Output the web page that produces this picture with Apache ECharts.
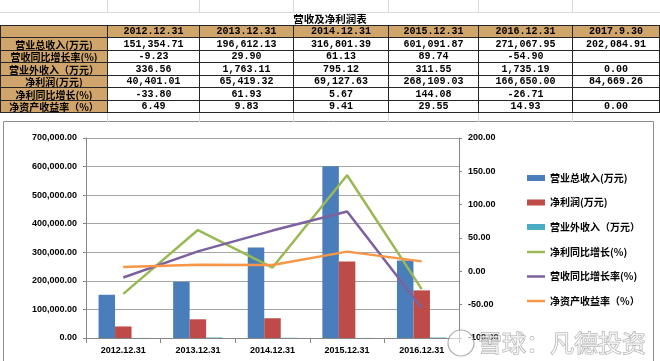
<!DOCTYPE html>
<html>
<head>
<meta charset="utf-8">
<script src="https://cdn.jsdelivr.net/npm/echarts@6/dist/echarts.min.js"></script>
<style>
html,body{margin:0;padding:0;background:#fff;}
#wrap{position:relative;width:660px;height:361px;overflow:hidden;background:#fff;}
#chart{position:absolute;left:0;top:0;width:660px;height:361px;z-index:1;}
#tbl{position:absolute;left:0;top:0;width:660px;height:122px;z-index:2;}
.cell{position:absolute;box-sizing:border-box;display:flex;align-items:center;justify-content:center;font-weight:bold;white-space:nowrap;color:#000;border:1px solid #262626;}
.num{font-family:"Liberation Mono","DejaVu Sans Mono",monospace;font-size:10px;}
.lab{font-family:"Noto Sans CJK SC",sans-serif;font-size:10px;}
.gl{position:absolute;background:#d9d9d9;}
</style>
</head>
<body>
<div id="wrap">
  <div id="chart"></div>
  <div id="tbl"></div>
</div>
<script>
// ---- data ----
const title = '营收及净利润表';
const categories = ['2012.12.31', '2013.12.31', '2014.12.31', '2015.12.31', '2016.12.31'];
const tableColumns = ['2012.12.31', '2013.12.31', '2014.12.31', '2015.12.31', '2016.12.31', '2017.9.30'];
const rowLabels = ['营业总收入(万元)', '营收同比增长率(%)', '营业外收入（万元）', '净利润(万元)', '净利同比增长(%)', '净资产收益率（%）'];
const revenue = [151354.71, 196612.13, 316801.39, 601091.87, 271067.95, 202084.91];
const revenueYoY = [-9.23, 29.90, 61.13, 89.74, -54.90, null];
const otherIncome = [336.56, 1763.11, 795.12, 311.55, 1735.19, 0.00];
const netProfit = [40401.01, 65419.32, 69127.63, 268109.03, 166650.00, 84669.26];
const netProfitYoY = [-33.80, 61.93, 5.67, 144.08, -26.71, null];
const roe = [6.49, 9.83, 9.41, 29.55, 14.93, 0.00];
const leftTicks = { min: 0, max: 700000, interval: 100000 };
const rightTicks = { min: -100, max: 200, interval: 50 };
const watermark = '雪球：凡德投资';

// ---- helpers ----
function fmt(v) {
  if (v === null || v === undefined) return '';
  const s = Math.abs(v).toFixed(2);
  const parts = s.split('.');
  parts[0] = parts[0].replace(/\B(?=(\d{3})+(?!\d))/g, ',');
  return (v < 0 ? '-' : '') + parts.join('.');
}

// ---- spreadsheet table ----
const tbl = document.getElementById('tbl');
const colX = [0, 107, 199, 293, 388, 478, 572, 659];
const rowY = [25, 37, 50, 62, 75, 87, 100, 112];
const tan = '#d0a56b';
function addDiv(cls, x, y, w, h, text, bg) {
  const d = document.createElement('div');
  d.className = cls;
  d.style.left = x + 'px'; d.style.top = y + 'px';
  d.style.width = w + 'px'; d.style.height = h + 'px';
  if (bg) d.style.background = bg;
  if (text !== undefined) d.textContent = text;
  tbl.appendChild(d);
  return d;
}
// faint sheet gridlines
addDiv('gl', 0, 12, 660, 1);
for (let i = 1; i < colX.length - 1; i++) {
  addDiv('gl', colX[i], 0, 1, 12);
  addDiv('gl', colX[i], 112, 1, 10);
}
// title
const t = addDiv('', 200, 12, 260, 13, title);
t.style.position = 'absolute';
t.style.display = 'flex'; t.style.alignItems = 'center'; t.style.justifyContent = 'center';
t.style.font = 'bold 10.5px "Noto Sans CJK SC", sans-serif';
t.style.color = '#000';
// header row
addDiv('cell lab', colX[0], rowY[0], colX[1] - colX[0] + 1, rowY[1] - rowY[0] + 1, '', tan);
tableColumns.forEach((c, i) => {
  addDiv('cell num', colX[i + 1], rowY[0], colX[i + 2] - colX[i + 1] + 1, rowY[1] - rowY[0] + 1, c, tan);
});
const rowsData = [revenue, revenueYoY, otherIncome, netProfit, netProfitYoY, roe];
rowsData.forEach((arr, r) => {
  const y = rowY[r + 1], h = rowY[r + 2] - rowY[r + 1] + 1;
  addDiv('cell lab', colX[0], y, colX[1] - colX[0] + 1, h, rowLabels[r], tan);
  arr.forEach((v, i) => {
    addDiv('cell num', colX[i + 1], y, colX[i + 2] - colX[i + 1] + 1, h, fmt(v), '#fff');
  });
});

// ---- chart ----
const n = categories.length;
const chart = echarts.init(document.getElementById('chart'), null, { renderer: 'canvas' });
const axisColor = '#868686';
const labelStyle = { fontSize: 9, fontWeight: 'bold', color: '#000', fontFamily: 'Liberation Sans' };
const legendText = { fontSize: 10, fontWeight: 'bold', color: '#000', fontFamily: 'Noto Sans CJK SC', lineHeight: 14 };
const colors = ['#4a7ebb', '#be4b48', '#4bacc6', '#98b954', '#7d60a0', '#f79646'];

chart.setOption({
  animation: false,
  color: colors,
  graphic: [
    { type: 'rect', z: -100, silent: true, shape: { x: 3.5, y: 121.5, width: 650, height: 245 }, style: { fill: '#fff', stroke: '#8c8c8c', lineWidth: 1 } },
    { type: 'circle', z: 100, silent: true, shape: { cx: 461, cy: 343, r: 13 }, style: { fill: 'rgba(255,255,255,0.6)', stroke: 'rgba(140,140,140,0.7)', lineWidth: 1.2 } },
    { type: 'text', z: 100, silent: true, style: { text: watermark, x: 478, y: 343, fontSize: 24, fontFamily: 'Noto Sans CJK SC', fill: 'rgba(255,255,255,0.65)', stroke: 'rgba(140,140,140,0.75)', lineWidth: 1, verticalAlign: 'middle', align: 'left' } }
  ],
  grid: { left: 86, right: 201, top: 138, bottom: 23 },
  legend: [
    { orient: 'vertical', left: 522, top: 166, itemWidth: 18, itemHeight: 6, itemGap: 10.5, icon: 'rect', textStyle: legendText,
      data: [rowLabels[0], rowLabels[3], rowLabels[2]] },
    { orient: 'vertical', left: 522, top: 240, itemWidth: 18, itemHeight: 2.5, itemGap: 10.5, icon: 'rect', textStyle: legendText,
      data: [rowLabels[4], rowLabels[1], rowLabels[5]] }
  ],
  xAxis: {
    type: 'category', data: categories,
    axisLine: { lineStyle: { color: axisColor } },
    axisTick: { show: true, length: 5, lineStyle: { color: axisColor } },
    axisLabel: Object.assign({ margin: 8, interval: 0 }, labelStyle)
  },
  yAxis: [
    { type: 'value', position: 'left', min: leftTicks.min, max: leftTicks.max, interval: leftTicks.interval,
      axisLine: { show: true, lineStyle: { color: axisColor } },
      axisTick: { show: true, length: 3, lineStyle: { color: axisColor } },
      splitLine: { show: true, lineStyle: { color: '#a6a6a6' } },
      axisLabel: Object.assign({ margin: 9, formatter: v => fmt(v) }, labelStyle) },
    { type: 'value', position: 'right', min: rightTicks.min, max: rightTicks.max, interval: rightTicks.interval,
      axisLine: { show: true, lineStyle: { color: axisColor } },
      axisTick: { show: true, length: 3, lineStyle: { color: axisColor } },
      splitLine: { show: false },
      axisLabel: Object.assign({ margin: 9, formatter: v => v.toFixed(2) }, labelStyle) }
  ],
  series: [
    { name: rowLabels[0], type: 'bar', yAxisIndex: 0, data: revenue.slice(0, n), barWidth: 16.5, barGap: '0%', itemStyle: { color: colors[0] } },
    { name: rowLabels[3], type: 'bar', yAxisIndex: 0, data: netProfit.slice(0, n), barWidth: 16.5, barGap: '0%', itemStyle: { color: colors[1] } },
    { name: rowLabels[2], type: 'bar', yAxisIndex: 0, data: otherIncome.slice(0, n), barWidth: 16.5, barGap: '0%', itemStyle: { color: colors[2] } },
    { name: rowLabels[4], type: 'line', yAxisIndex: 1, data: netProfitYoY.slice(0, n), showSymbol: false, lineStyle: { width: 2.5, color: colors[3] }, itemStyle: { color: colors[3] } },
    { name: rowLabels[1], type: 'line', yAxisIndex: 1, data: revenueYoY.slice(0, n), showSymbol: false, lineStyle: { width: 2.5, color: colors[4] }, itemStyle: { color: colors[4] } },
    { name: rowLabels[5], type: 'line', yAxisIndex: 1, data: roe.slice(0, n), showSymbol: false, lineStyle: { width: 2.5, color: colors[5] }, itemStyle: { color: colors[5] } }
  ]
});
</script>
</body>
</html>
